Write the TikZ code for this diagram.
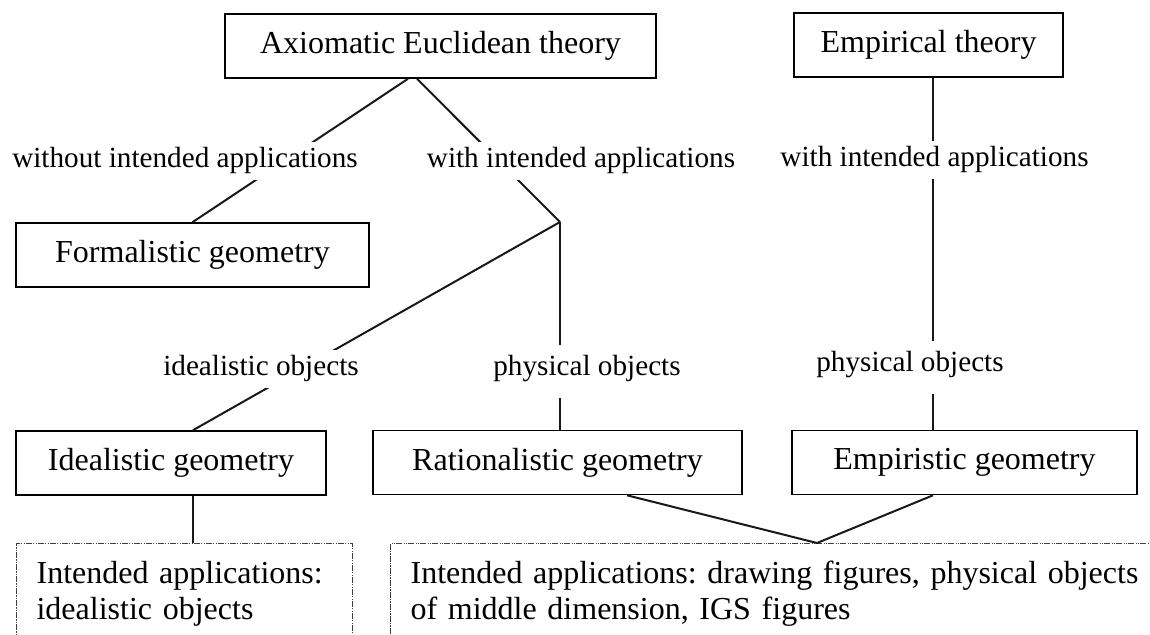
\documentclass[tikz,border=0pt]{standalone}
\usepackage{fontspec}
\setmainfont{Liberation Serif}
\frenchspacing
\tikzset{
  geobox/.style={draw=black, line width=0.8pt, minimum height=32pt, inner sep=0pt,
                 font=\fontsize{16pt}{18pt}\selectfont, align=center},
  branchlabel/.style={fill=white, inner sep=3pt, anchor=base,
                      font=\fontsize{14.6pt}{17pt}\selectfont},
  vlabel/.style={branchlabel, text height=12.5pt, text depth=8pt},
  link/.style={line width=1pt, black!90},
  applbox/.style={draw=black!75, line width=0.6pt,
                  dash pattern=on 3pt off 0.6pt on 0.6pt off 0.6pt on 0.6pt off 0.6pt,
                  anchor=north west, align=left, inner xsep=10pt, inner ysep=8.6pt,
                  font=\fontsize{16pt}{18pt}\selectfont},
}

\begin{document}
\begin{tikzpicture}[x=0.5pt, y=-0.5pt]
  \useasboundingbox (0,0) rectangle (1150,635);
  \clip (0,0) rectangle (1150,635);

  % Theories (top)
  \node[geobox, minimum width=215.5pt] (axiom) at (440.5,46) {Axiomatic Euclidean theory};
  \node[geobox, minimum width=134.5pt] (empir) at (928.5,45) {Empirical theory};

  % Geometries
  \node[geobox, minimum width=176.5pt] (formal) at (192.5,255) {Formalistic geometry};
  \node[geobox, minimum width=155pt] (ideal) at (171,463) {Idealistic geometry};
  \node[geobox, minimum width=184.5pt] (ration) at (557.5,462.5) {Rationalistic geometry};
  \node[geobox, minimum width=172.5pt] (empiri) at (964.5,462.5) {Empiristic geometry};

  % Intended applications (bottom, cut off)
  \node[applbox, text width=148pt] (appl1) at (16,543)
    {Intended applications:\\ idealistic objects};
  \node[applbox, text width=420pt] (appl2) at (390,543)
    {Intended applications: drawing figures, physical objects\\ of middle dimension, IGS figures};

  \coordinate (fork) at (560,222);
  \coordinate (vee) at (817,543);

  % Branches of the axiomatic theory
  \draw[link] ([xshift=-16.25pt]axiom.south) -- (formal.north);
  \draw[link] ([xshift=-11.75pt]axiom.south) -- (fork);
  \draw[link] (fork) -- ([xshift=11pt]ideal.north);
  \draw[link] (fork) -- (fork |- ration.north);

  % Branch of the empirical theory
  \draw[link] ([xshift=2.25pt]empir.south) -- ([xshift=2.25pt]empir.south |- empiri.north);

  % Down to the applications
  \draw[link] ([xshift=11pt]ideal.south) -- ([xshift=11pt]ideal.south |- appl1.north);
  \draw[link] ([xshift=34.75pt]ration.south) -- (vee) -- ([xshift=-15.75pt]empiri.south);

  % Branch labels
  \node[branchlabel] (lblwithout) at (185,168) {without intended applications};
  \node[branchlabel] (lblwith) at (581,168) {with intended applications};
  \node[branchlabel] (lblempwith) at (934.5,167) {with intended applications};
  \node[branchlabel] (lblideal) at (261,376) {idealistic objects};
  \node[vlabel] (lblphys) at (587,376) {physical objects};
  \node[vlabel] (lblempphys) at (910,372) {physical objects};
\end{tikzpicture}
\end{document}
